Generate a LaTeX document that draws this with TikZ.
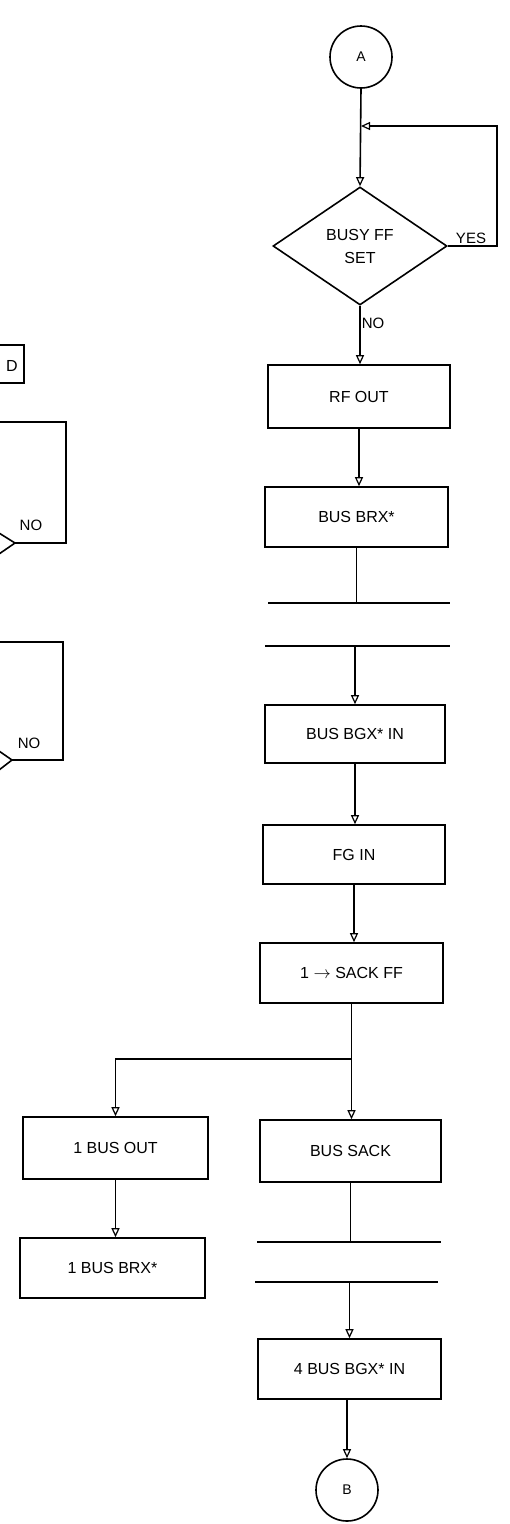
\documentclass[tikz,border=0pt]{standalone}
\usepackage{fontspec}
\setmainfont{Liberation Sans}
\usetikzlibrary{arrows.meta,shapes.geometric}
\begin{document}
\begin{tikzpicture}[x=1pt,y=-1pt,line width=1.6pt,
  txt/.style={font=\fontsize{16}{23}\selectfont},
  box/.style={draw,rectangle,inner sep=0pt,txt},
  conn/.style={draw,circle,minimum size=62pt,inner sep=0pt,font=\fontsize{14}{16}\selectfont},
  dec/.style={draw,diamond,inner sep=0pt,minimum width=174pt,minimum height=118pt,align=center,txt},
  arr/.style={-{Triangle[open,length=9pt,width=8pt,line width=1.2pt]}},
  lbl/.style={font=\fontsize{15}{17}\selectfont,inner sep=1pt}]
\useasboundingbox (0,0) rectangle (509,1524);
% right column
\node[conn] (A) at (361,57) {A};
\node[dec] (dia) at (360,246) {BUSY FF\\SET};
\node[box,minimum width=182pt,minimum height=63pt] (rfout) at (359,396.5) {RF OUT};
\node[box,minimum width=183pt,minimum height=60pt] (brx) at (356.5,517) {BUS BRX*};
\coordinate (l1a) at (268,603); \coordinate (l1b) at (450,603);
\coordinate (l2a) at (265,646); \coordinate (l2b) at (450,646);
\node[box,minimum width=180pt,minimum height=58pt] (bgxin) at (355,734) {BUS BGX* IN};
\node[box,minimum width=182pt,minimum height=59pt] (fgin) at (354,854.5) {FG IN};
\node[box,minimum width=183pt,minimum height=60pt] (sack) at (351.5,973) {1 $\rightarrow$ SACK FF};
\node[box,minimum width=181pt,minimum height=62pt] (bsack) at (350.5,1151) {BUS SACK};
\coordinate (l3a) at (257,1242); \coordinate (l3b) at (441,1242);
\coordinate (l4a) at (255,1282); \coordinate (l4b) at (438,1282);
\node[box,minimum width=183pt,minimum height=60pt] (bgx4) at (349.5,1369) {4 BUS BGX* IN};
\node[conn] (B) at (347,1490) {B};
% left column
\node[box,minimum width=185pt,minimum height=62pt] (busout) at (115.5,1148) {1 BUS OUT};
\node[box,minimum width=185pt,minimum height=60pt] (brx1) at (112.5,1268) {1 BUS BRX*};
% connectors right
\coordinate (j1) at (361,126);
\coordinate (yr) at (497,126);
\draw[arr] (A.south) -- (dia.north);
\draw[arr] (dia.east) -| (yr) -- (j1);
\node[lbl] at (471,238) {YES};
\draw[arr] (dia.south) -- node[lbl,right,pos=0.3] {NO} (dia.south |- rfout.north);
\draw[arr] (rfout.south) -- (rfout.south |- brx.north);
\draw (brx.south) -- (brx.south |- l1a);
\draw (l1a) -- (l1b);
\draw (l2a) -- (l2b);
\draw[arr] (bgxin.north |- l2a) -- (bgxin.north);
\draw[arr] (bgxin.south) -- (bgxin.south |- fgin.north);
\draw[arr] (fgin.south) -- (fgin.south |- sack.north);
\coordinate (br) at (351.5,1059);
\draw[arr] (sack.south) -- (sack.south |- bsack.north);
\draw[arr] (br) -| (busout.north);
\draw (bsack.south) -- (bsack.south |- l3a);
\draw (l3a) -- (l3b);
\draw (l4a) -- (l4b);
\draw[arr] (bgx4.north |- l4a) -- (bgx4.north);
\draw[arr] (B.north |- bgx4.south) -- (B.north);
\draw[arr] (busout.south) -- (busout.south |- brx1.north);
% left partial elements
\node[box,minimum width=68pt,minimum height=38pt] (dbox) at (-10,364) {};
\node[txt] (dtxt) at (12,366) {D};
\coordinate (p1) at (-2,422); \coordinate (p2) at (66,422); \coordinate (p3) at (66,543);
\coordinate (d1) at (15,543); \coordinate (d1a) at (-1,533); \coordinate (d1b) at (-1,554);
\draw (p1) -- (p2) -- (p3) -- (d1);
\draw (d1a) -- (d1) -- (d1b);
\node[lbl] at (31,525) {NO};
\coordinate (q1) at (-2,642); \coordinate (q2) at (63,642); \coordinate (q3) at (63,760);
\coordinate (d2) at (12,760); \coordinate (d2a) at (-1,751); \coordinate (d2b) at (-1,770);
\draw (q1) -- (q2) -- (q3) -- (d2);
\draw (d2a) -- (d2) -- (d2b);
\node[lbl] at (29,743) {NO};
\end{tikzpicture}
\end{document}
